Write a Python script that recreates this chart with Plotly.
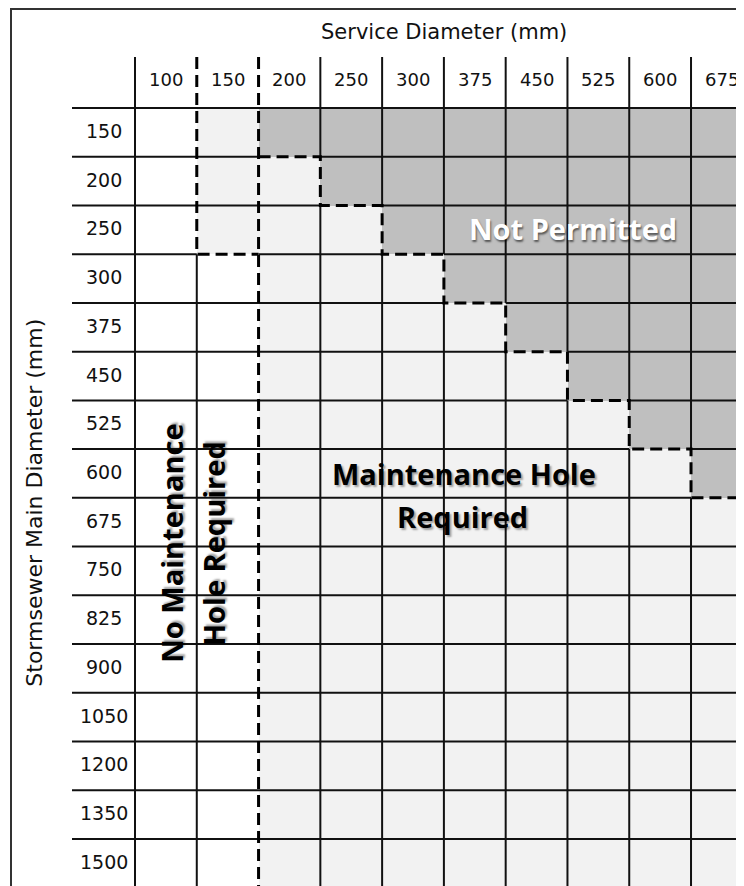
import plotly.graph_objects as go

# ---------------- data ----------------
service_sizes = ["100", "150", "200", "250", "300", "375", "450", "525", "600", "675"]
main_sizes = ["150", "200", "250", "300", "375", "450", "525", "600",
              "675", "750", "825", "900", "1050", "1200", "1350", "1500"]
# 0 = no maintenance hole required, 1 = maintenance hole required, 2 = not permitted
status = [
    [0, 1, 2, 2, 2, 2, 2, 2, 2, 2],  # 150
    [0, 1, 1, 2, 2, 2, 2, 2, 2, 2],  # 200
    [0, 1, 1, 1, 2, 2, 2, 2, 2, 2],  # 250
    [0, 0, 1, 1, 1, 2, 2, 2, 2, 2],  # 300
    [0, 0, 1, 1, 1, 1, 2, 2, 2, 2],  # 375
    [0, 0, 1, 1, 1, 1, 1, 2, 2, 2],  # 450
    [0, 0, 1, 1, 1, 1, 1, 1, 2, 2],  # 525
    [0, 0, 1, 1, 1, 1, 1, 1, 1, 2],  # 600
    [0, 0, 1, 1, 1, 1, 1, 1, 1, 1],  # 675
    [0, 0, 1, 1, 1, 1, 1, 1, 1, 1],  # 750
    [0, 0, 1, 1, 1, 1, 1, 1, 1, 1],  # 825
    [0, 0, 1, 1, 1, 1, 1, 1, 1, 1],  # 900
    [0, 0, 1, 1, 1, 1, 1, 1, 1, 1],  # 1050
    [0, 0, 1, 1, 1, 1, 1, 1, 1, 1],  # 1200
    [0, 0, 1, 1, 1, 1, 1, 1, 1, 1],  # 1350
    [0, 0, 1, 1, 1, 1, 1, 1, 1, 1],  # 1500
]
x_title = "Service Diameter (mm)"
y_title = "Stormsewer Main Diameter (mm)"
label_not_permitted = "Not Permitted"
label_mh = ["Maintenance Hole", "Required"]
label_no_mh = ["No Maintenance", "Hole Required"]

# ---------------- geometry (layout only) ----------------
WIN_W, WIN_H = 744, 886      # browser window
OFF = 8                      # default page body margin
W, H = WIN_W - OFF, WIN_H - OFF
GX0, GY0 = 135.0, 108.0      # window pixel of grid origin (top-left of first data cell)
CW, RH = 61.78, 48.73        # cell size in pixels
HEADER_TOP = (57 - GY0) / RH
LABEL_LEFT = (72 - GX0) / CW
ncols, nrows = len(service_sizes), len(main_sizes)

x_range = [(OFF - GX0) / CW, (OFF + W - GX0) / CW]
y_range = [(OFF + H - GY0) / RH, (OFF - GY0) / RH]

# ---------------- dashed boundaries ----------------
dashed = set()
always_col = next(c for c in range(ncols) if all(status[r][c] != 0 for r in range(nrows)))
some_col = next(c for c in range(ncols) if any(status[r][c] != 0 for r in range(nrows)))

dash_x, dash_y = [], []

def add_dash(pts):
    for p in pts:
        dash_x.append(p[0]); dash_y.append(p[1])
    dash_x.append(None); dash_y.append(None)

add_dash([(always_col, HEADER_TOP), (always_col, nrows)])
for r in range(-1, nrows):
    dashed.add(("v", always_col, r))
if some_col < always_col:
    last = max(r for r in range(nrows) if status[r][some_col] != 0) + 1
    add_dash([(some_col, HEADER_TOP), (some_col, last), (some_col + 1, last)])
    for r in range(-1, last):
        dashed.add(("v", some_col, r))
    dashed.add(("h", last, some_col))

first2 = []
for r in range(nrows):
    idx = [c for c in range(ncols) if status[r][c] == 2]
    first2.append(idx[0] if idx else None)
pts = []
for r in range(nrows):
    c0 = first2[r]
    if c0 is None:
        break
    nxt = first2[r + 1] if r + 1 < nrows and first2[r + 1] is not None else ncols
    if not pts:
        pts.append((c0, r))
    pts.append((c0, r + 1))
    pts.append((nxt, r + 1))
    dashed.add(("v", c0, r))
    for c in range(c0, nxt):
        dashed.add(("h", r + 1, c))
if pts and pts[0][0] == always_col:
    pts = pts[1:]
add_dash(pts)

# ---------------- solid grid ----------------
sol_x, sol_y = [], []
for k in range(nrows + 1):
    cur = LABEL_LEFT
    for c in range(ncols):
        if ("h", k, c) in dashed:
            if cur is not None:
                sol_x += [cur, c, None]; sol_y += [k, k, None]
            cur = None
        else:
            if cur is None:
                cur = c
    if cur is not None:
        sol_x += [cur, ncols, None]; sol_y += [k, k, None]
for c in range(ncols + 1):
    cur = None
    for r in range(-1, nrows):
        y0 = HEADER_TOP if r == -1 else r
        if ("v", c, r) in dashed:
            if cur is not None:
                sol_x += [c, c, None]; sol_y += [cur, y0, None]
            cur = None
        else:
            if cur is None:
                cur = y0
    if cur is not None:
        sol_x += [c, c, None]; sol_y += [cur, nrows, None]

# ---------------- figure ----------------
LIGHT, DARK = "#f2f2f2", "#bfbfbf"
fig = go.Figure()
fig.add_trace(go.Heatmap(
    x=[c + 0.5 for c in range(ncols)],
    y=[r + 0.5 for r in range(nrows)],
    z=status, zmin=0, zmax=2,
    colorscale=[[0, "#ffffff"], [0.25, "#ffffff"], [0.25, LIGHT], [0.75, LIGHT],
                [0.75, DARK], [1, DARK]],
    showscale=False, hoverinfo="skip", xgap=0, ygap=0,
))
fig.add_trace(go.Scatter(x=sol_x, y=sol_y, mode="lines",
                         line=dict(color="#111111", width=2),
                         hoverinfo="skip", showlegend=False))
fig.add_trace(go.Scatter(x=dash_x, y=dash_y, mode="lines",
                         line=dict(color="#000000", width=3, dash="12px,6px"),
                         hoverinfo="skip", showlegend=False))

NUM_FONT = "DejaVu Sans"
BOLD_FONT = "Open Sans"
SHADOW = "2px 2px 2px rgba(0,0,0,0.35)"
ann = []
for c, s in enumerate(service_sizes):
    ann.append(dict(x=c + 0.5, y=-0.58, text=s, showarrow=False,
                    font=dict(family=NUM_FONT, size=18, color="#111")))
for r, s in enumerate(main_sizes):
    ann.append(dict(x=LABEL_LEFT / 2, y=r + 0.47, text=s, showarrow=False,
                    font=dict(family=NUM_FONT, size=19, color="#111")))
ann.append(dict(x=ncols / 2, y=-1.56, text=x_title, showarrow=False,
                font=dict(family=NUM_FONT, size=21, color="#111")))
ann.append(dict(x=(35 - GX0) / CW, y=nrows / 2 + 0.1, text=y_title, showarrow=False,
                textangle=-90, font=dict(family=NUM_FONT, size=22, color="#111")))

ann.append(dict(x=7.09, y=2.48, text=label_not_permitted, showarrow=False,
                font=dict(family=BOLD_FONT, size=29, color="#ffffff", weight=700,
                          shadow="1px 2px 2px rgba(0,0,0,0.55)")))
ann.append(dict(x=5.32, y=7.5, text=label_mh[0], showarrow=False,
                font=dict(family=BOLD_FONT, size=29, color="#000000", weight=700,
                          shadow=SHADOW)))
ann.append(dict(x=5.3, y=8.39, text=label_mh[1], showarrow=False,
                font=dict(family=BOLD_FONT, size=29, color="#000000", weight=700,
                          shadow=SHADOW)))
ann.append(dict(x=0.6, y=8.94, text=label_no_mh[0], showarrow=False, textangle=-90,
                font=dict(family=BOLD_FONT, size=29, color="#000000", weight=700,
                          shadow=SHADOW)))
ann.append(dict(x=1.27, y=8.94, text=label_no_mh[1], showarrow=False, textangle=-90,
                font=dict(family=BOLD_FONT, size=29, color="#000000", weight=700,
                          shadow=SHADOW)))

fig.update_layout(
    width=W, height=H,
    margin=dict(l=0, r=0, t=0, b=0, pad=0),
    paper_bgcolor="#ffffff", plot_bgcolor="#ffffff",
    xaxis=dict(range=x_range, visible=False, fixedrange=True),
    yaxis=dict(range=y_range, visible=False, fixedrange=True),
    annotations=ann,
    shapes=[dict(type="rect", xref="paper", yref="paper",
                 x0=(11 - OFF) / W, x1=1.02, y0=-0.02, y1=1 - (9 - OFF) / H,
                 line=dict(color="#333333", width=2), fillcolor="rgba(0,0,0,0)",
                 layer="above")],
    showlegend=False,
)
fig.write_html("out.html")
